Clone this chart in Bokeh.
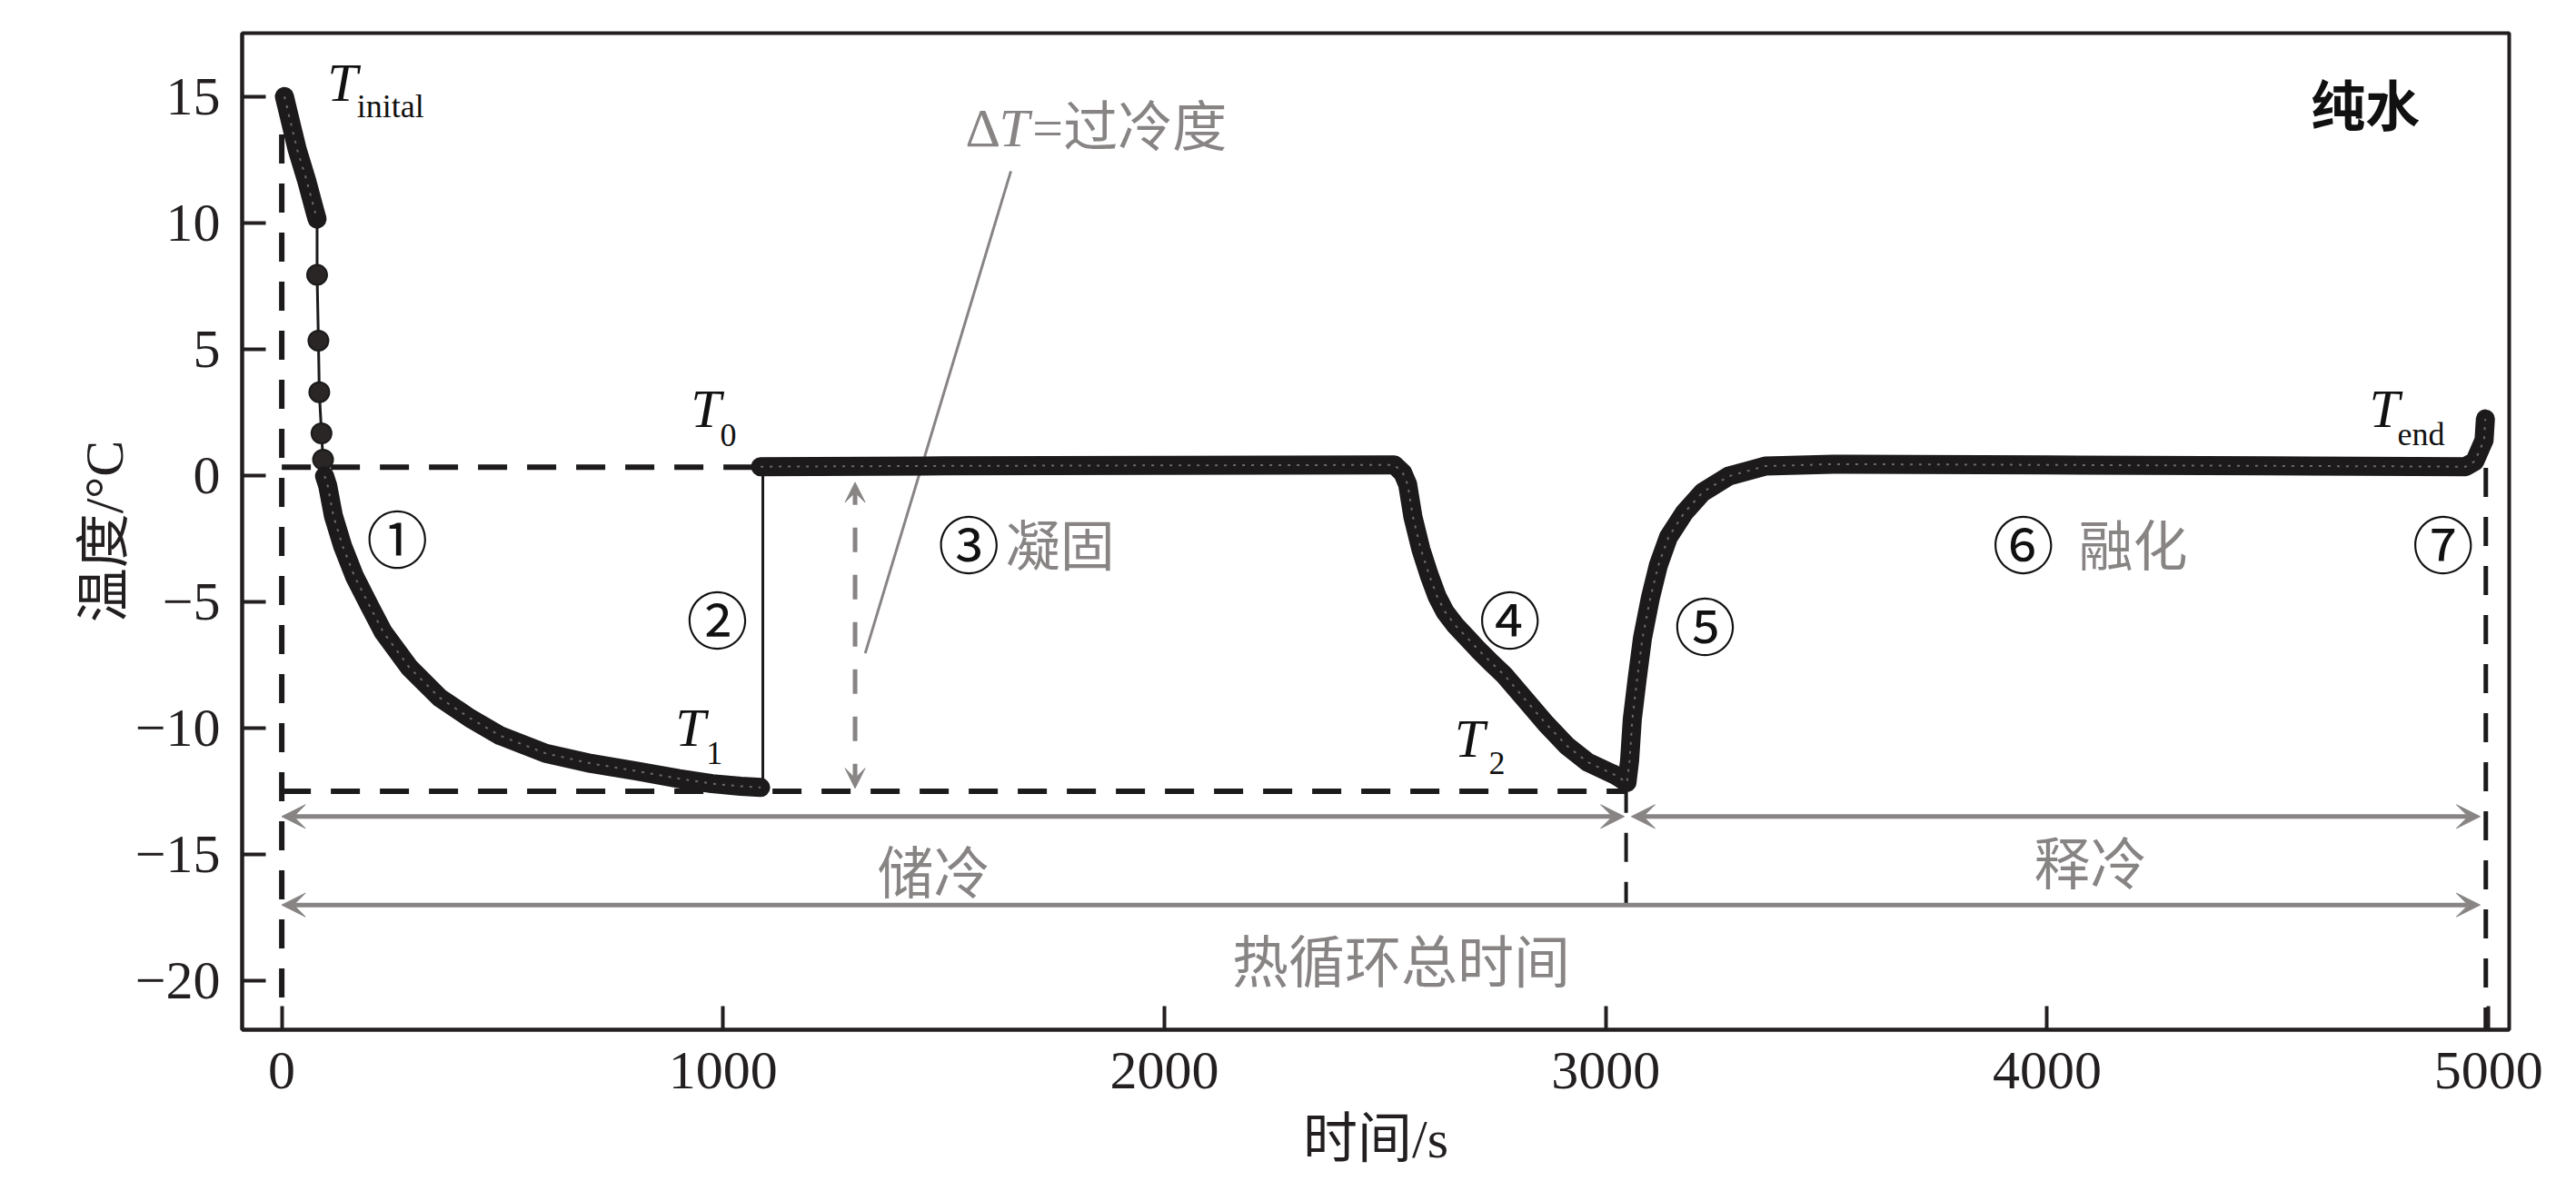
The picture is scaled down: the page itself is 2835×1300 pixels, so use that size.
from bokeh.plotting import figure
from bokeh.models import FixedTicker, Arrow, VeeHead, Range1d
from bokeh.core.properties import value
from bokeh.embed import file_html
from bokeh.resources import INLINE

# ---------------- data ----------------
# initial dense cooling (T_inital -> ~10 C)
t_start = [6, 15, 35, 56, 76, 80]
T_start = [15.0, 14.35, 12.9, 11.7, 10.4, 10.15]
# fast drop, sparse samples
t_fast = [80, 80, 83, 85, 90, 93.5, 97]
T_fast = [10.15, 7.94, 5.34, 3.3, 1.67, 0.63, -0.02]
# stage 1 : supercooling of liquid
t_cool = [97, 104, 117, 138, 165, 200, 230, 289, 358, 426, 495, 598, 701, 804, 900, 975, 1040, 1085]
T_cool = [-0.02, -0.4, -1.6, -2.8, -4.0, -5.2, -6.2, -7.6, -8.8, -9.6, -10.3, -11.0, -11.4, -11.7,
          -12.0, -12.2, -12.3, -12.35]
# stage 2 : nucleation jump
t_jump = [1090, 1090]
T_jump = [-12.35, 0.33]
# stages 3-7 : freezing plateau, solid cooling, warming, melting, end
t_rest = [1085, 1500, 2000, 2521, 2540, 2551, 2563, 2581, 2600, 2618, 2636, 2660, 2690, 2711, 2740,
          2770, 2817, 2864, 2912, 2959, 3018, 3048, 3054, 3060, 3071, 3083, 3101, 3119, 3142, 3178,
          3219, 3278, 3361, 3515, 4000, 4500, 4948, 4969, 4985, 4990, 4993]
T_rest = [0.35, 0.38, 0.4, 0.42, 0.1, -0.35, -1.64, -2.92, -3.95, -4.8, -5.4, -5.95, -6.5, -6.9,
          -7.4, -7.9, -8.86, -9.82, -10.7, -11.35, -11.83, -12.15, -11.27, -9.66, -8.06, -6.45,
          -4.85, -3.56, -2.44, -1.47, -0.67, -0.03, 0.37, 0.45, 0.42, 0.38, 0.35, 0.56, 1.2, 1.4, 2.24]

T0_level = 0.33
T12_level = -12.5
t_freeze_start = 1082
t_release = 3046
t_finish = 4994

x_ticks = [0, 1000, 2000, 3000, 4000, 5000]
y_ticks = [-20, -15, -10, -5, 0, 5, 10, 15]
y_tick_text = {-20: "\u221220", -15: "\u221215", -10: "\u221210", -5: "\u22125",
               0: "0", 5: "5", 10: "10", 15: "15"}

# annotation positions (data units)
circ_text = ["\u2460", "\u2461", "\u2462", "\u2463", "\u2464", "\u2465", "\u2466"]
circ_t = [262, 987, 1557, 2783, 3225, 3946, 4897]
circ_T = [-2.43, -5.6, -2.64, -5.63, -5.88, -2.64, -2.64]

phase_text = ["凝固", "融化"]
phase_t = [1640, 4071]
phase_T = [-2.64, -2.64]

span_text = ["储冷", "释冷", "热循环总时间"]
span_t = [1477, 4098, 2536]
span_T = [-15.6, -15.25, -19.1]

sym_main_t = [103, 927, 892, 2657, 4730]
sym_main_T = [15.55, 2.64, -10.0, -10.41, 2.64]
sym_sub = ["inital", "0", "1", "2", "end"]
sym_sub_t = [170, 993, 962, 2735, 4794]
sym_sub_T = [14.63, 1.61, -11.0, -11.38, 1.65]

arrow_level_store = -13.5
arrow_level_total = -17.0
arrow_t_end = 4981
dT_t = 1299

GRAY = "#888484"
INK = "#1c1a1a"
SERIF = "Liberation Serif"
CJK = "Noto Sans CJK SC"
MIX = "Liberation Serif, Noto Sans CJK SC"

p = figure(frame_width=2495, frame_height=1097, output_backend="svg", toolbar_location=None,
           x_range=Range1d(-89.8, 5047), y_range=Range1d(-21.94, 17.51),
           min_border_left=266, min_border_right=66, min_border_top=36, min_border_bottom=160)
p.background_fill_color = "white"
p.border_fill_color = "white"
p.xgrid.visible = False
p.ygrid.visible = False
p.outline_line_color = "#231f20"
p.outline_line_width = 4

for ax in (p.xaxis[0], p.yaxis[0]):
    ax.axis_line_width = 4
    ax.axis_line_color = "#231f20"
    ax.major_tick_in = 26
    ax.major_tick_out = 0
    ax.major_tick_line_width = 4
    ax.major_tick_line_color = "#231f20"
    ax.minor_tick_line_color = None
    ax.major_label_text_font = SERIF
    ax.major_label_text_font_size = "60px"
    ax.major_label_text_color = "#231f20"
    ax.axis_label_text_font = MIX
    ax.axis_label_text_font_size = "60px"
    ax.axis_label_text_font_style = "normal"
    ax.axis_label_text_color = "#231f20"

p.xaxis.ticker = FixedTicker(ticks=x_ticks)
p.yaxis.ticker = FixedTicker(ticks=y_ticks)
p.yaxis.major_label_overrides = y_tick_text
p.xaxis.major_label_standoff = 25
p.yaxis.major_label_standoff = 24
p.xaxis.axis_label = "时间/s"
p.yaxis.axis_label = "温度/°C"
p.xaxis.axis_label_standoff = 20
p.yaxis.axis_label_standoff = -2

# ---------- black dashed guide lines ----------
dash = "32 22"
p.line([0, 0], [13.5, -21.1], line_color=INK, line_width=6, line_dash=dash)
p.line([0, t_freeze_start], [T0_level, T0_level], line_color=INK, line_width=6, line_dash=dash)
p.line([0, t_release], [T12_level, T12_level], line_color=INK, line_width=6, line_dash=dash)
p.line([t_release, t_release], [-12.2, arrow_level_total], line_color=INK, line_width=4, line_dash=dash)
p.line([t_finish, t_finish], [0.3, -21.94], line_color=INK, line_width=5, line_dash=dash)

# ---------- gray arrows ----------
def head(s=26):
    return VeeHead(size=s, fill_color=GRAY, line_color=GRAY, line_width=1)

p.add_layout(Arrow(x_start=t_release - 4, y_start=arrow_level_store, x_end=0, y_end=arrow_level_store,
                   start=head(), end=head(), line_color=GRAY, line_width=5))
p.add_layout(Arrow(x_start=t_release + 12, y_start=arrow_level_store, x_end=arrow_t_end,
                   y_end=arrow_level_store, start=head(), end=head(), line_color=GRAY, line_width=5))
p.add_layout(Arrow(x_start=0, y_start=arrow_level_total, x_end=arrow_t_end, y_end=arrow_level_total,
                   start=head(), end=head(), line_color=GRAY, line_width=5))
# supercooling degree arrow
p.add_layout(Arrow(x_start=dT_t, y_start=T12_level + 0.12, x_end=dT_t, y_end=T0_level - 0.6,
                   start=head(22), end=head(22), line_color=GRAY, line_width=5, line_dash="27 25"))
# leader line from the delta-T label
p.line([1652, 1322], [12.05, -7.04], line_color=GRAY, line_width=3)

# ---------- temperature curve ----------
p.line(t_jump, T_jump, line_color=INK, line_width=3)
p.line(t_fast, T_fast, line_color=INK, line_width=3)
p.scatter(t_fast[1:-1], T_fast[1:-1], size=22, marker="circle", fill_color="#2a2626",
          line_color=INK, line_width=2)
for tt, TT in ((t_start, T_start), (t_cool, T_cool), (t_rest, T_rest)):
    p.line(tt, TT, line_color=INK, line_width=21, line_join="round", line_cap="round")
    p.line(tt, TT, line_color="#8f8b8b", line_width=2, line_dash="3 7", line_alpha=0.7)

# ---------- texts ----------
p.text(circ_t, circ_T, text=circ_text, text_font=value(CJK), text_font_size="68px",
       text_align="center", text_baseline="middle", text_color="#111111")
p.text(phase_t, phase_T, text=phase_text, text_font=value(CJK), text_font_size="60px",
       text_align="left", text_baseline="middle", text_color=GRAY)
p.text(span_t, span_T, text=span_text, text_font=value(CJK), text_font_size="62px",
       text_align="center", text_baseline="middle", text_color=GRAY)
p.text(sym_main_t, sym_main_T, text=["T"] * len(sym_main_t), text_font=value(SERIF),
       text_font_style="italic", text_font_size="60px", text_align="left",
       text_baseline="middle", text_color="#111111")
p.text(sym_sub_t, sym_sub_T, text=sym_sub, text_font=value(SERIF), text_font_size="36px",
       text_align="left", text_baseline="middle", text_color="#111111")
# delta T = supercooling degree
p.text([1549], [13.75], text=["\u0394"], text_font=value(SERIF), text_font_size="60px",
       text_align="left", text_baseline="middle", text_color=GRAY)
p.text([1625], [13.75], text=["T"], text_font=value(SERIF), text_font_style="italic",
       text_font_size="60px", text_align="left", text_baseline="middle", text_color=GRAY)
p.text([1701], [13.75], text=["=过冷度"], text_font=value(MIX), text_font_size="60px",
       text_align="left", text_baseline="middle", text_color=GRAY)
# sample name
p.text([4721], [14.76], text=["纯水"], text_font=value(CJK), text_font_style="bold",
       text_font_size="60px", text_align="center", text_baseline="middle", text_color="#111111")

open("out.html", "w").write(file_html(p, INLINE))
